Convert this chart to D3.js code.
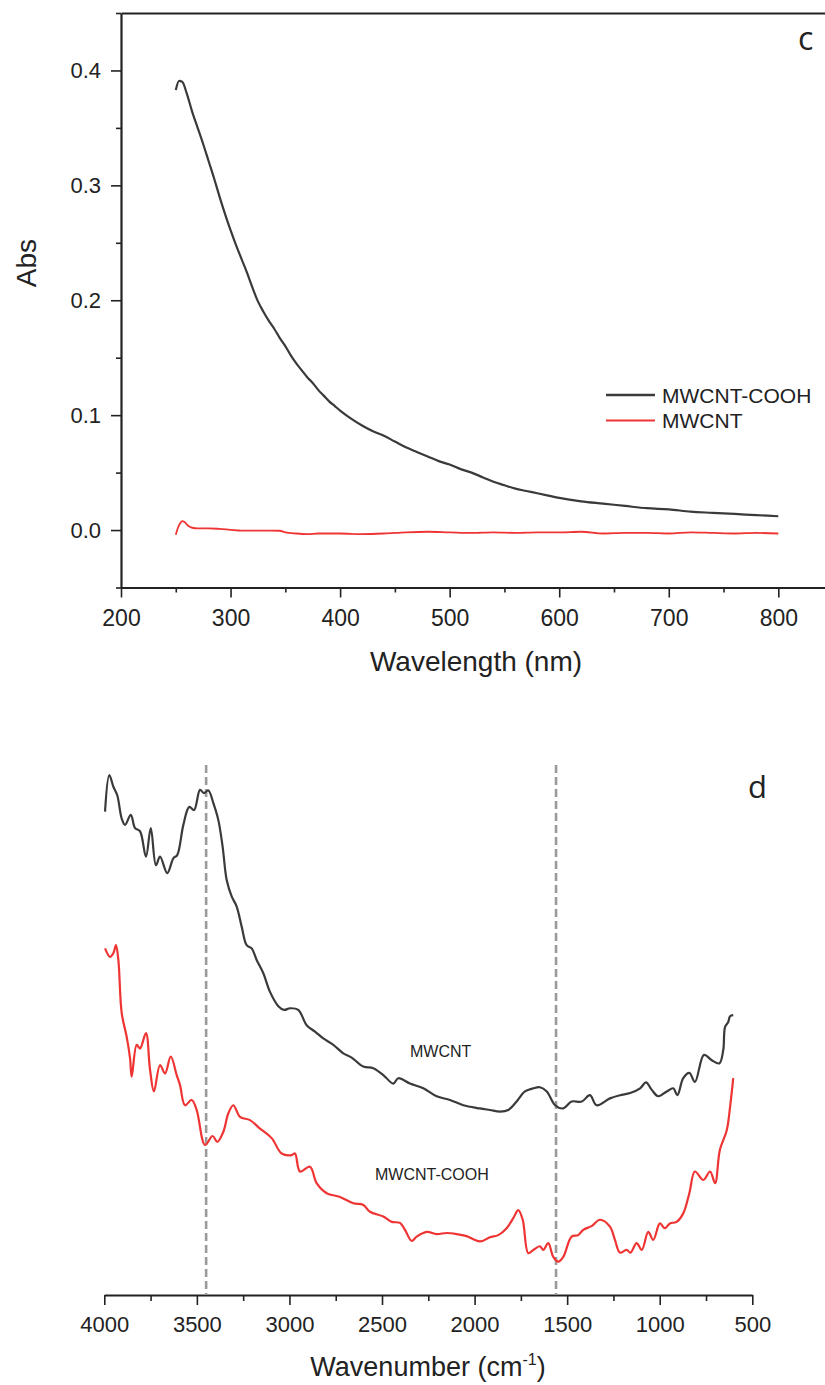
<!DOCTYPE html>
<html>
<head>
<meta charset="utf-8">
<script src="https://cdn.jsdelivr.net/npm/d3@7"></script>
<style>
  html, body { margin: 0; padding: 0; background: #fff; }
  svg { display: block; }
  text { font-family: "Liberation Sans", Arial, sans-serif; fill: #222; }
</style>
</head>
<body>
<svg id="chart" width="825" height="1385"></svg>
<script>
// ---------- Panel c : UV-Vis ----------
const uvXTicks = [200, 300, 400, 500, 600, 700, 800];
const uvXMinor = [250, 350, 450, 550, 650, 750, 850];
const uvYTicks = [0.0, 0.1, 0.2, 0.3, 0.4];
const uvYMinor = [-0.05, 0.05, 0.15, 0.25, 0.35, 0.45];
const uvSeriesNames = ["MWCNT-COOH", "MWCNT"];

// MWCNT-COOH absorbance [nm, Abs]
const uvCooh = [
  [250,0.383],[253,0.391],[256,0.390],[260,0.380],[265,0.364],[270,0.350],[275,0.336],
  [280,0.321],[285,0.306],[290,0.290],[295,0.275],[300,0.261],[305,0.248],[310,0.236],
  [315,0.224],[320,0.211],[325,0.199],[330,0.190],[335,0.182],[340,0.175],[345,0.167],
  [350,0.160],[355,0.152],[360,0.145],[365,0.139],[370,0.133],[375,0.128],[380,0.122],
  [385,0.117],[390,0.112],[395,0.108],[400,0.104],[410,0.097],[420,0.091],[430,0.086],
  [440,0.082],[450,0.077],[460,0.072],[470,0.068],[480,0.064],[490,0.060],[500,0.057],
  [510,0.053],[520,0.050],[530,0.046],[540,0.042],[550,0.039],[560,0.036],[570,0.034],
  [580,0.032],[590,0.030],[600,0.028],[620,0.025],[640,0.023],[660,0.021],[680,0.019],
  [700,0.018],[720,0.016],[740,0.015],[760,0.014],[780,0.013],[800,0.012]
];
// MWCNT absorbance [nm, Abs]
const uvPristine = [
  [250,-0.004],[252,0.002],[254,0.006],[256,0.0078],[258,0.007],[261,0.004],[265,0.002],
  [270,0.0015],[280,0.0015],[290,0.001],[300,0.0002],[310,-0.0005],[330,-0.0005],
  [345,-0.0006],[350,-0.002],[360,-0.003],[370,-0.0035],[380,-0.003],[400,-0.003],
  [420,-0.0035],[440,-0.003],[460,-0.002],[480,-0.0015],[500,-0.002],[520,-0.0025],
  [540,-0.002],[560,-0.0025],[580,-0.002],[600,-0.002],[620,-0.0015],[640,-0.003],
  [660,-0.0025],[680,-0.0025],[700,-0.003],[720,-0.002],[740,-0.0025],[760,-0.003],
  [780,-0.0025],[800,-0.003]
];

// ---------- Panel d : FTIR ----------
const irXTicks = [4000, 3500, 3000, 2500, 2000, 1500, 1000, 500];
const irXMinor = [3750, 3250, 2750, 2250, 1750, 1250, 750];
const irMarkers = [3450, 1560];
// MWCNT (upper curve) [cm-1, arbitrary transmittance]
const irPristine = [
  [3996,91.2],[3973,98.1],[3951,95.9],[3930,94.3],[3906,89.9],[3888,88.7],[3857,90.6],
  [3834,88.1],[3807,87.5],[3775,82.7],[3749,88.1],[3721,81.1],[3699,82.7],[3660,79.6],
  [3627,82.4],[3606,83.0],[3573,88.7],[3541,92.1],[3515,91.5],[3483,95.3],[3462,94.7],
  [3438,95.2],[3411,92.8],[3384,89.6],[3361,84.6],[3339,78.3],[3312,75.2],[3285,73.3],
  [3258,69.5],[3231,66.0],[3204,65.4],[3177,63.2],[3141,60.7],[3105,57.2],[3060,54.5],
  [3029,53.8],[2997,54.1],[2952,53.8],[2907,50.9],[2862,49.7],[2817,48.4],[2763,47.2],
  [2709,45.6],[2664,44.8],[2601,43.1],[2547,42.8],[2493,41.5],[2439,39.9],[2412,40.9],
  [2349,39.9],[2277,39.0],[2205,37.5],[2133,36.8],[2061,35.8],[1971,35.2],[1917,34.9],
  [1863,34.6],[1818,34.9],[1773,36.5],[1728,38.4],[1683,39.0],[1647,39.2],[1610,38.4],
  [1565,35.8],[1521,35.2],[1476,36.5],[1421,36.5],[1377,37.7],[1341,35.8],[1269,37.1],
  [1215,37.7],[1160,38.1],[1106,39.0],[1074,40.1],[1043,38.7],[1008,37.5],[962,38.4],
  [927,39.0],[905,37.7],[873,40.9],[840,41.9],[810,40.2],[761,45.3],[719,44.3],
  [678,43.7],[657,46.2],[647,50.6],[630,51.5],[620,52.6],[603,52.8]
];
// MWCNT-COOH (lower curve)
const irCooh = [
  [3996,65.4],[3969,63.8],[3951,64.5],[3937,66.0],[3924,63.2],[3906,53.2],[3879,48.7],
  [3861,44.7],[3852,41.2],[3825,47.2],[3807,46.5],[3775,49.4],[3753,42.5],[3732,38.4],
  [3699,43.4],[3672,41.8],[3641,45.0],[3609,41.5],[3591,39.6],[3564,35.8],[3528,36.8],
  [3501,34.9],[3456,28.3],[3415,30.0],[3390,28.9],[3357,30.8],[3330,34.3],[3303,35.8],
  [3267,33.6],[3213,33.0],[3159,31.4],[3096,29.6],[3042,26.7],[2988,26.4],[2970,26.7],
  [2943,23.3],[2889,24.2],[2853,21.1],[2799,19.2],[2727,18.5],[2655,17.3],[2601,17.0],
  [2565,15.7],[2493,14.8],[2448,13.8],[2403,13.6],[2376,12.3],[2340,10.2],[2313,11.0],
  [2259,11.9],[2205,11.5],[2151,11.7],[2097,11.5],[2043,11.1],[1971,10.1],[1917,10.9],
  [1872,11.3],[1827,12.6],[1791,14.5],[1764,16.0],[1740,14.2],[1710,7.9],[1683,8.5],
  [1647,9.2],[1629,8.5],[1602,9.8],[1575,7.2],[1548,6.3],[1521,7.2],[1476,11.0],
  [1440,11.3],[1413,12.3],[1368,13.0],[1323,14.2],[1269,12.9],[1242,10.4],[1215,8.0],
  [1179,8.5],[1158,8.0],[1125,9.8],[1097,8.5],[1062,11.9],[1035,10.4],[999,13.5],
  [972,12.6],[945,13.5],[909,13.8],[873,15.4],[840,19.2],[810,23.3],[764,21.7],
  [728,23.3],[701,21.1],[675,27.4],[638,31.1],[620,35.5],[603,40.9]
];

const BLACK = "#3a3a3a", RED = "#ef3434";
const svg = d3.select("#chart");

// ===== Panel c =====
const uvX = d3.scaleLinear().domain([200, 850]).range([121, 833.1]);
const uvY = d3.scaleLinear().domain([-0.05, 0.45]).range([587.5, 13]);

function styleAxis(g, w) {
  g.select(".domain").attr("stroke", "#222").attr("stroke-width", w);
  g.selectAll(".tick line").attr("stroke", "#222").attr("stroke-width", 1.6);
}

// minor ticks
svg.append("g").attr("transform", "translate(121,0)")
  .call(d3.axisLeft(uvY).tickValues(uvYMinor).tickFormat("").tickSize(5).tickSizeOuter(0))
  .call(g => { styleAxis(g, 2); g.select(".domain").remove(); });
svg.append("g").attr("transform", "translate(0,587.5)")
  .call(d3.axisBottom(uvX).tickValues(uvXMinor).tickFormat("").tickSize(5).tickSizeOuter(0))
  .call(g => { styleAxis(g, 2); g.select(".domain").remove(); });

// major axes
svg.append("g").attr("transform", "translate(121,0)")
  .call(d3.axisLeft(uvY).tickValues(uvYTicks).tickFormat(d3.format(".1f")).tickSize(10).tickSizeOuter(0).tickPadding(10))
  .call(g => { styleAxis(g, 2.2); g.selectAll("text").attr("font-size", 22).attr("fill", "#222"); g.attr("font-family", null); });
svg.append("g").attr("transform", "translate(0,587.5)")
  .call(d3.axisBottom(uvX).tickValues(uvXTicks).tickFormat(d3.format("d")).tickSize(10).tickSizeOuter(0).tickPadding(12))
  .call(g => { styleAxis(g, 2.2); g.selectAll("text").attr("font-size", 23).attr("fill", "#222"); g.attr("font-family", null); });
// top frame line
svg.append("g").attr("transform", "translate(0,13)")
  .call(d3.axisTop(uvX).tickValues([]).tickSizeOuter(0))
  .call(g => styleAxis(g, 2.2));

const uvLine = d3.line().x(d => uvX(d[0])).y(d => uvY(d[1])).curve(d3.curveMonotoneX);
svg.append("path").datum(uvPristine).attr("d", uvLine)
  .attr("fill", "none").attr("stroke", RED).attr("stroke-width", 1.8);
svg.append("path").datum(uvCooh).attr("d", uvLine)
  .attr("fill", "none").attr("stroke", BLACK).attr("stroke-width", 2.2);

// axis titles
svg.append("text").attr("transform", "translate(36,263) rotate(-90)")
  .attr("text-anchor", "middle").attr("font-size", 28).text("Abs");
svg.append("text").attr("x", 476).attr("y", 671)
  .attr("text-anchor", "middle").attr("font-size", 28).text("Wavelength (nm)");

// legend
const legY = [395, 420.5];
const legColors = [BLACK, RED];
uvSeriesNames.forEach((name, i) => {
  svg.append("line").attr("x1", 606).attr("x2", 655).attr("y1", legY[i]).attr("y2", legY[i])
    .attr("stroke", legColors[i]).attr("stroke-width", i === 0 ? 2.6 : 2);
  svg.append("text").attr("x", 662).attr("y", legY[i] + 7.5)
    .attr("font-size", 21).text(name);
});

// panel letter
svg.append("text").attr("x", 798).attr("y", 50).attr("font-size", 32)
  .style("font-family", "'Open Sans', 'Noto Sans', sans-serif").attr("fill", "#111").text("c");

// ===== Panel d =====
const irX = d3.scaleLinear().domain([4000, 500]).range([104.3, 752.3]);
const irY = d3.scaleLinear().domain([0, 100]).range([1295, 765]);

svg.append("g").attr("transform", "translate(0,1295)")
  .call(d3.axisBottom(irX).tickValues(irXMinor).tickFormat("").tickSize(6).tickSizeOuter(0))
  .call(g => { styleAxis(g, 2); g.select(".domain").remove(); });
svg.append("g").attr("transform", "translate(0,1295)")
  .call(d3.axisBottom(irX).tickValues(irXTicks).tickFormat(d3.format("d")).tickSize(10).tickSizeOuter(0).tickPadding(11))
  .call(g => { styleAxis(g, 2.2); g.selectAll("text").attr("font-size", 22).attr("fill", "#222"); g.attr("font-family", null); });

// dashed marker lines
svg.selectAll(".marker").data(irMarkers).join("line")
  .attr("class", "marker")
  .attr("x1", d => irX(d)).attr("x2", d => irX(d))
  .attr("y1", irY(100)).attr("y2", irY(0))
  .attr("stroke", "#9a9a9a").attr("stroke-width", 2.6).attr("stroke-dasharray", "8,4");

const irLine = d3.line().x(d => irX(d[0])).y(d => irY(d[1])).curve(d3.curveCatmullRom.alpha(0.5));
svg.append("path").datum(irPristine).attr("d", irLine)
  .attr("fill", "none").attr("stroke", BLACK).attr("stroke-width", 2.2);
svg.append("path").datum(irCooh).attr("d", irLine)
  .attr("fill", "none").attr("stroke", RED).attr("stroke-width", 2.2);

// curve labels
svg.append("text").attr("x", 410).attr("y", 1057).attr("font-size", 16).text("MWCNT");
svg.append("text").attr("x", 375).attr("y", 1180).attr("font-size", 16).text("MWCNT-COOH");

// x title with superscript
const t = svg.append("text").attr("x", 428).attr("y", 1376)
  .attr("text-anchor", "middle").attr("font-size", 27);
t.append("tspan").text("Wavenumber (cm");
t.append("tspan").attr("font-size", 16).attr("dy", -11).text("-1");
t.append("tspan").attr("dy", 11).text(")");

svg.append("text").attr("x", 748).attr("y", 798).attr("font-size", 31)
  .style("font-family", "'Open Sans', 'Noto Sans', sans-serif").attr("fill", "#111").text("d");
</script>
</body>
</html>
